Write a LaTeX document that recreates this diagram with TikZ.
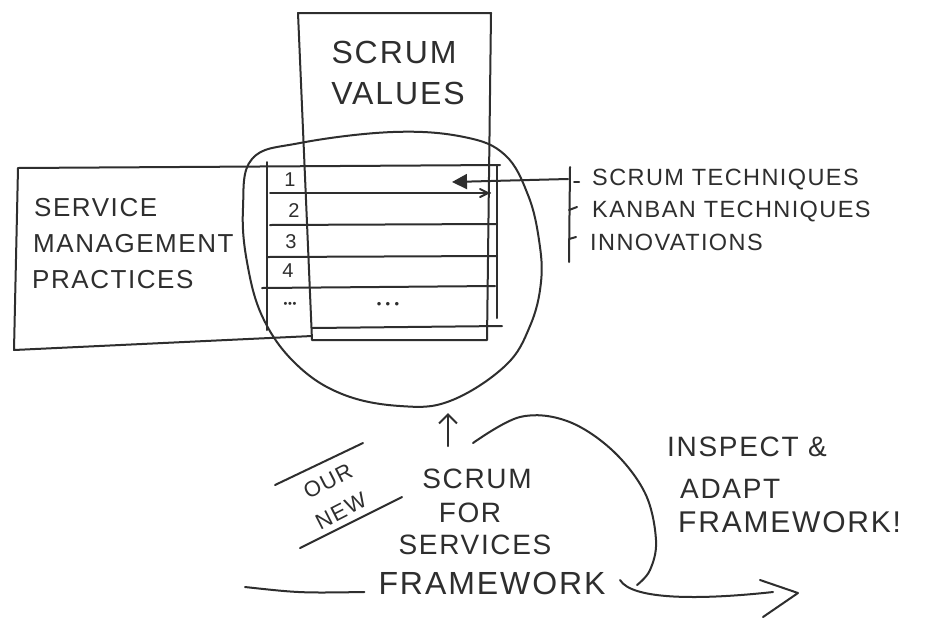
\documentclass[tikz,border=0pt]{standalone}
\usepackage{fontspec}
\setmainfont{Liberation Sans}
\newfontfamily\hand[LetterSpace=6]{Liberation Sans}
\usetikzlibrary{arrows.meta}
\definecolor{ink}{HTML}{2E2E2E}
\begin{document}
\begin{tikzpicture}[x=1pt,y=-1pt,
  pen/.style={draw=ink,line width=2pt,line cap=round,line join=round},
  txt/.style={text=ink,inner sep=0pt,font=\hand\fontsize{#1}{#1}\selectfont},
  txt/.default=25]
\useasboundingbox[fill=white] (0,0) rectangle (928,619);

% Scrum values column
\draw[pen] (298,13) -- (491,13) -- (487,340) -- (312,340) -- cycle;
\node[txt=32] (sv1) at (394,52) {SCRUM};
\node[txt=32] (sv2) at (398,93) {VALUES};

% Service management practices box
\draw[pen] (500,165) -- (18,168) -- (14,350) -- (312,336);
\node[txt=26,anchor=west] (smp1) at (34,208) {SERVICE};
\node[txt=26,anchor=west] (smp2) at (33,244) {MANAGEMENT};
\node[txt=26,anchor=west] (smp3) at (32,280) {PRACTICES};

% table
\draw[pen] (267,162) -- (267,330);
\draw[pen] (497,165) -- (497,318);
\draw[pen] (270,193) -- (490,193);
\draw[pen] (480,189) -- (488,193) -- (480,197);
\draw[pen] (270,225) -- (497,224);
\draw[pen] (268,257) -- (497,256);
\draw[pen] (262,288) -- (495,286);
\draw[pen] (312,328) -- (502,326);
\node[txt=20] (n1) at (290,180) {1};
\node[txt=20] (n2) at (294,211) {2};
\node[txt=20] (n3) at (291,242) {3};
\node[txt=20] (n4) at (288,271) {4};
\node[txt=11] (n5) at (290,305) {•••};
\node[txt=13] (m5) at (388,305) {•\,\,•\,\,•};

% big circle
\draw[pen] plot[smooth cycle,tension=0.65] coordinates {
  (252,159) (300,143) (393,132) (464,137) (505,155) (528,195) (539,240)
  (541,282) (530,326) (505,366) (450,401) (400,406) (342,394) (296,364)
  (263,318) (247,262) (243,208)};

% techniques list
\coordinate (brtop) at (570,167);
\coordinate (brbot) at (569,262);
\draw[pen] (brtop) -- (brbot);
\draw[pen] (574,182) -- (579,182);
\draw[pen] (569,210) -- (577,207);
\draw[pen] (569,239) -- (576,237);
\node[txt=23.5,anchor=west] (st) at (592,180) {SCRUM TECHNIQUES};
\node[txt=23.5,anchor=west] (kt) at (592,212) {KANBAN TECHNIQUES};
\node[txt=23.5,anchor=west] (inn) at (590,242) {INNOVATIONS};
\coordinate (brk) at (568,179);
\coordinate (row1) at (452,182);
\draw[pen,-{Triangle[length=15pt,width=15pt]}] (brk) -- (row1);

% bottom: framework
\node[txt=28] (b1) at (477,479) {SCRUM};
\node[txt=28] (b2) at (470,513) {FOR};
\node[txt=28] (b3) at (475,545) {SERVICES};
\node[txt=32] (b4) at (492,583) {FRAMEWORK};
\coordinate (fl) at (245,587);
\draw[pen] (fl) .. controls (300,593) .. ([shift={(-14,9)}]b4.west);

\coordinate (uparr) at (448,446);
\coordinate (circbot) at (448,413);
\draw[pen,-{Straight Barb[length=9pt,width=18pt]}] (uparr) -- (circbot);

% our new
\draw[pen] (275,485) -- (363,443);
\draw[pen] (300,548) -- (402,497);
\node[txt=22,rotate=27] (our) at (328,481) {OUR};
\node[txt=22,rotate=27] (new) at (341,511) {NEW};

% inspect & adapt loop
\coordinate (loopa) at (473,443);
\coordinate (loopb) at (637,585);
\draw[pen] plot[smooth,tension=0.6] coordinates {(loopa) (520,417) (567,421) (612,450) (645,493) (656,540) (650,570) (loopb)};
\coordinate (sws) at (620,580);
\coordinate (swe) at (773,592);
\coordinate (tip) at (798,593);
\draw[pen] (sws) .. controls (632,600) and (700,600) .. (swe);
\draw[pen] (760,580) -- (tip) -- (763,617);

\node[txt=28,anchor=west] (ia1) at (667,447) {INSPECT \&};
\node[txt=28,anchor=west] (ia2) at (680,489) {ADAPT};
\node[txt=30,anchor=west] (ia3) at (678,522) {FRAMEWORK!};
\end{tikzpicture}
\end{document}
